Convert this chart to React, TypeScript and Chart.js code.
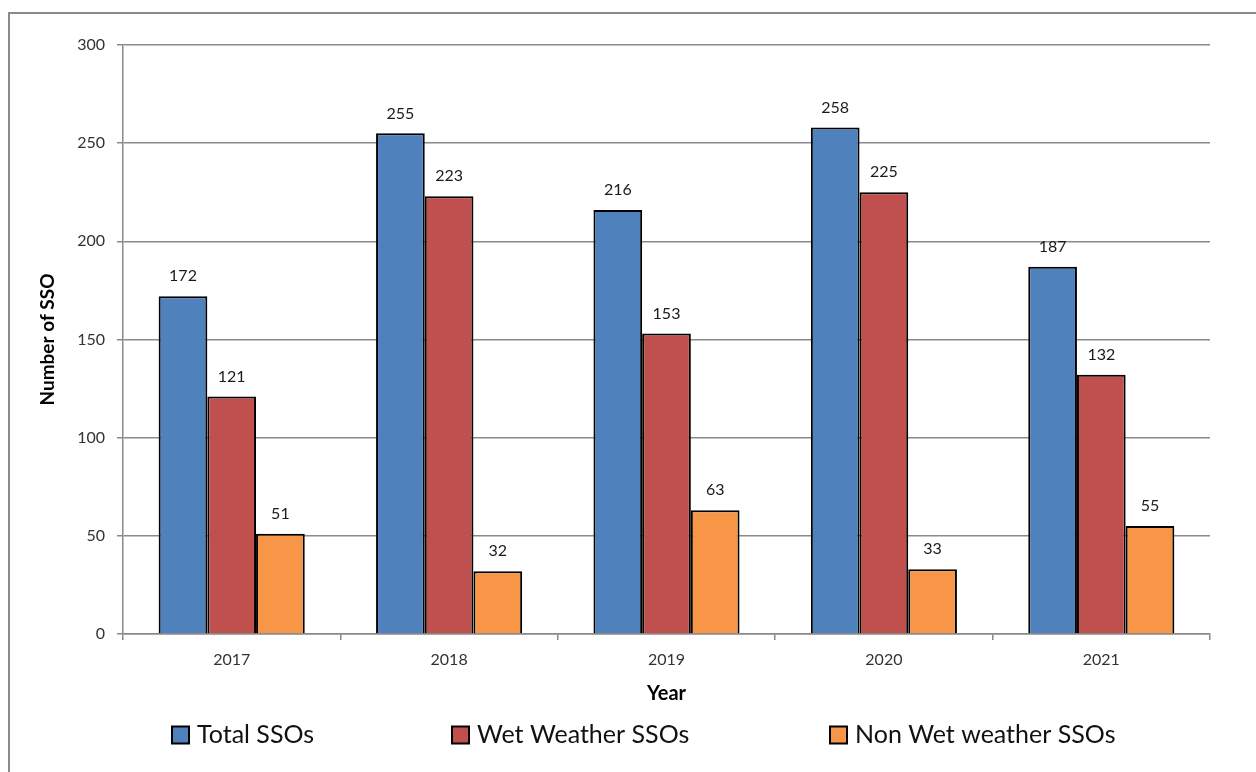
import React, { useEffect, useRef } from "react";
import { Chart, registerables } from "chart.js";

Chart.register(...registerables);

const years = ["2017", "2018", "2019", "2020", "2021"];
const totalSSOs = [172, 255, 216, 258, 187];
const wetWeatherSSOs = [121, 223, 153, 225, 132];
const nonWetWeatherSSOs = [51, 32, 63, 33, 55];
const seriesNames = ["Total SSOs", "Wet Weather SSOs", "Non Wet weather SSOs"];
const seriesColors = ["#4F81BD", "#C0504D", "#F79646"];
const yTicks = [0, 50, 100, 150, 200, 250, 300];

const FONT = "Lato, 'Open Sans', 'Noto Sans', sans-serif";
const GRID = "#8a8a8a";

// Gray frame around the whole chart
const framePlugin = {
  id: "frame",
  beforeDraw(chart: any) {
    const ctx = chart.ctx;
    ctx.save();
    ctx.strokeStyle = GRID;
    ctx.lineWidth = 2;
    ctx.strokeRect(9, 13, chart.width + 40, chart.height + 40);
    ctx.restore();
  },
};

// Value labels above each bar
const valueLabelPlugin = {
  id: "valueLabels",
  afterDatasetsDraw(chart: any) {
    const ctx = chart.ctx;
    ctx.save();
    ctx.font = `16px ${FONT}`;
    ctx.fillStyle = "#1a1a1a";
    ctx.textAlign = "center";
    ctx.textBaseline = "middle";
    chart.data.datasets.forEach((ds: any, i: number) => {
      const meta = chart.getDatasetMeta(i);
      meta.data.forEach((el: any, j: number) => {
        ctx.fillText(String(ds.data[j]), el.x, el.y - 20);
      });
    });
    ctx.restore();
  },
};

// Legend row under the axis title
const legendPlugin = {
  id: "bottomLegend",
  afterDraw(chart: any) {
    const ctx = chart.ctx;
    const boxX = [172, 452, 830];
    const y = 735;
    const box = 17;
    ctx.save();
    ctx.font = `25px ${FONT}`;
    ctx.textBaseline = "middle";
    ctx.textAlign = "left";
    chart.data.datasets.forEach((ds: any, i: number) => {
      ctx.fillStyle = ds.backgroundColor;
      ctx.fillRect(boxX[i], y - box / 2, box, box);
      ctx.strokeStyle = "#000";
      ctx.lineWidth = 2;
      ctx.strokeRect(boxX[i], y - box / 2, box, box);
      ctx.fillStyle = "#111";
      ctx.fillText(ds.label, boxX[i] + box + 8, y);
    });
    ctx.restore();
  },
};

export default function App() {
  const canvasRef = useRef<HTMLCanvasElement | null>(null);

  useEffect(() => {
    document.body.style.margin = "0";
    const canvas = canvasRef.current;
    if (!canvas) return;
    const seriesData = [totalSSOs, wetWeatherSSOs, nonWetWeatherSSOs];
    const chart = new Chart(canvas, {
      type: "bar",
      data: {
        labels: years,
        datasets: seriesData.map((d, i) => ({
          label: seriesNames[i],
          data: d,
          backgroundColor: seriesColors[i],
          borderColor: "#000",
          borderWidth: 2,
          categoryPercentage: 0.672,
          barPercentage: 1,
        })),
      },
      options: {
        responsive: false,
        animation: false,
        devicePixelRatio: 1,
        layout: { padding: { left: 0, right: 46, top: 45, bottom: 0 } },
        plugins: {
          legend: { display: false },
          tooltip: { enabled: false },
        },
        scales: {
          x: {
            afterFit(scale: any) {
              scale.height = 772 - 634;
            },
            grid: {
              offset: true,
              drawOnChartArea: false,
              drawTicks: true,
              tickLength: 6,
              color: GRID,
              lineWidth: 1.5,
            },
            border: { color: GRID, width: 1.5 },
            ticks: {
              font: { family: FONT, size: 16 },
              color: "#333",
              padding: 10,
            },
            title: {
              display: true,
              text: "Year",
              font: { family: FONT, size: 20, weight: "bold" },
              color: "#000",
              padding: { top: 0, bottom: 66 },
            },
          },
          y: {
            min: 0,
            max: 300,
            afterFit(scale: any) {
              scale.width = 123;
            },
            afterBuildTicks(scale: any) {
              scale.ticks = yTicks.map((v) => ({ value: v }));
            },
            grid: {
              color: GRID,
              lineWidth: 1.5,
              drawTicks: true,
              tickLength: 6,
            },
            border: { color: GRID, width: 1.5 },
            ticks: {
              font: { family: FONT, size: 16 },
              color: "#333",
              padding: 12,
            },
            title: {
              display: true,
              text: "Number of SSO",
              font: { family: FONT, size: 19, weight: "bold" },
              color: "#000",
              padding: { top: 36, bottom: 0 },
            },
          },
        },
      },
      plugins: [framePlugin, valueLabelPlugin, legendPlugin],
    });
    return () => chart.destroy();
  }, []);

  return (
    <div style={{ width: 1256, height: 772, background: "#fff" }}>
      <canvas ref={canvasRef} width={1256} height={772} />
    </div>
  );
}
